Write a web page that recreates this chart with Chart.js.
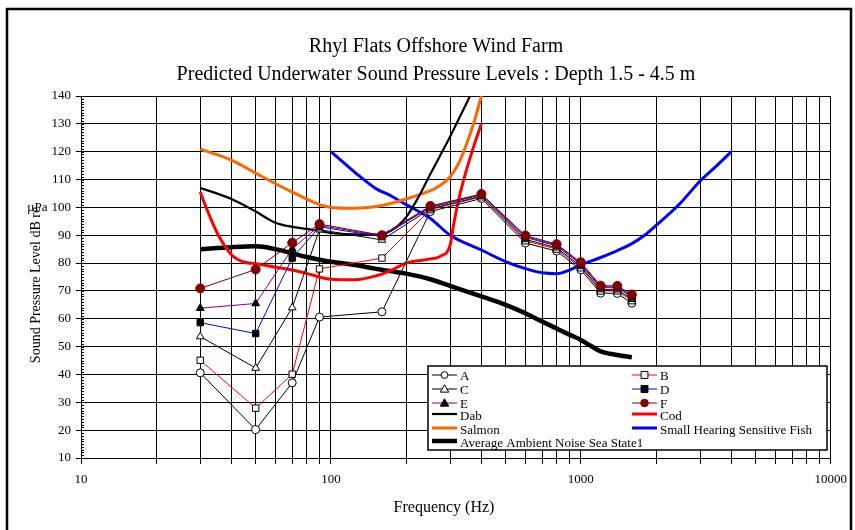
<!DOCTYPE html>
<html><head><meta charset="utf-8">
<script src="https://cdn.jsdelivr.net/npm/chart.js@4.4.0/dist/chart.umd.min.js"></script>
<style>html,body{margin:0;padding:0;background:#fff;}#wrap{width:855px;height:530px;}</style>
</head><body><div id="wrap"><canvas id="c" width="855" height="530"></canvas></div>
<script>
// ---------- DATA ----------
const markerFreqs = [30, 50, 70, 90, 160, 250, 400, 600, 800, 1000, 1200, 1400, 1600];
const seriesA = [40.6, 20.2, 37.0, 60.6, 62.5, 98.5, 103.2, 87.2, 84.3, 77.6, 69.2, 69.1, 65.6];
const seriesB = [45.1, 27.9, 40.1, 77.9, 81.8, 99.2, 103.8, 88.0, 85.0, 78.3, 70.0, 70.0, 66.5];
const seriesC = [53.6, 42.3, 64.0, 92.0, 88.3, 99.5, 104.0, 88.5, 85.5, 78.8, 70.5, 70.4, 67.0];
const seriesD = [58.6, 54.7, 81.8, 93.0, 89.5, 100.0, 104.5, 89.2, 86.2, 79.5, 71.2, 71.1, 67.8];
const seriesE = [63.8, 65.5, 85.1, 93.5, 89.8, 100.2, 104.7, 89.5, 86.5, 79.9, 71.5, 71.4, 68.2];
const seriesF = [70.9, 77.7, 87.3, 94.0, 90.0, 100.5, 104.8, 89.9, 86.8, 80.3, 71.9, 71.8, 68.7];

const dabFreqs  = [30, 40, 50, 60, 70, 80, 90, 100, 125, 150, 175, 200, 225, 250, 275, 300, 330, 360, 380];
const dabValues = [107, 103, 98.5, 94.5, 93, 92.3, 91.5, 90.8, 90.3, 90.2, 91.8, 96.5, 104, 112, 119, 125.5, 133, 140, 145];

const codFreqs  = [30, 32, 35, 40, 45, 50, 60, 70, 80, 90, 100, 125, 150, 175, 200, 250, 275, 300, 310, 325, 345, 370, 400];
const codValues = [105.5, 99, 91, 83, 80.3, 79.8, 78.5, 77.5, 76.3, 75, 74.2, 74, 75.3, 77.5, 80, 81.5, 82.5, 86.5, 94, 103, 112, 121, 130];

const salmonFreqs  = [30, 40, 50, 60, 70, 80, 90, 100, 125, 150, 175, 200, 225, 250, 275, 300, 325, 350, 375, 400];
const salmonValues = [120.9, 117, 112.3, 108.5, 105.5, 103, 101, 100, 99.7, 100.2, 101.5, 103, 104.5, 106, 108, 111, 116, 123, 131, 140];

const fishFreqs  = [100, 125, 150, 175, 200, 250, 300, 400, 500, 600, 700, 800, 900, 1000, 1200, 1400, 1600, 1800, 2000, 2500, 3000, 3500, 4000];
const fishValues = [120, 112.5, 107, 104, 101, 96, 90, 84.7, 80.5, 78, 76.5, 76.2, 77.5, 79.3, 82, 84.5, 87, 90, 93.5, 101.5, 109.5, 115, 120];

const noiseFreqs  = [30, 40, 50, 60, 70, 80, 90, 100, 125, 150, 200, 250, 300, 400, 500, 600, 700, 800, 900, 1000, 1100, 1200, 1400, 1600];
const noiseValues = [85, 85.7, 86, 85, 83.5, 82.2, 81.2, 80.5, 79.3, 78, 76.2, 74.2, 71.8, 68, 65, 62, 59, 56.5, 54.3, 52.4, 50.2, 48.3, 47, 46.2];

const xTickValues = [10,20,30,40,50,60,70,80,90,100,200,300,400,500,600,700,800,900,1000,2000,3000,4000,5000,6000,7000,8000,9000,10000];
const xTickLabels = ['10', '100', '1000', '10000'];
const yTickValues = [10,20,30,40,50,60,70,80,90,100,110,120,130,140];

const titleLines = ['Rhyl Flats Offshore Wind Farm', 'Predicted Underwater Sound Pressure Levels : Depth 1.5 - 4.5 m'];
const xTitle = 'Frequency (Hz)';
const yTitle = 'Sound Pressure Level dB re';
const yTitleUnit = 'µPa';

// ---------- BUILD ----------
const FONT = "'Liberation Serif', 'Times New Roman', serif";
const pts = (xs, ys) => xs.map((x, i) => ({x: x, y: ys[i]}));

function markerSet(label, data, color, style, bg, border, radius) {
  return {label, data: pts(markerFreqs, data), borderColor: color, borderWidth: 1,
    pointStyle: style, pointRadius: radius, pointHoverRadius: radius,
    pointBackgroundColor: bg, pointBorderColor: border, pointBorderWidth: 1,
    tension: 0, fill: false};
}
function curveSet(label, xs, ys, color, width) {
  return {label, data: pts(xs, ys), borderColor: color, borderWidth: width,
    pointRadius: 0, cubicInterpolationMode: 'monotone', fill: false, _curve: true};
}

const datasets = [
  markerSet('F', seriesF, '#800000', 'circle', '#800000', '#800000', 4.5),
  markerSet('E', seriesE, '#800080', 'triangle', '#000', '#000', 4.5),
  markerSet('D', seriesD, '#0000ff', 'rect', '#000', '#000', 4.5),
  markerSet('C', seriesC, '#000000', 'triangle', '#fff', '#000', 4.5),
  markerSet('B', seriesB, '#ff0000', 'rect', '#fff', '#000', 4.5),
  markerSet('A', seriesA, '#000000', 'circle', '#fff', '#000', 4),
  curveSet('Dab', dabFreqs, dabValues, '#000000', 2.2),
  curveSet('Cod', codFreqs, codValues, '#ff0000', 3),
  curveSet('Salmon', salmonFreqs, salmonValues, '#ff6600', 3),
  curveSet('Small Hearing Sensitive Fish', fishFreqs, fishValues, '#0000ff', 3),
  curveSet('Average Ambient Noise Sea State1', noiseFreqs, noiseValues, '#000000', 4.5)
];

function drawMarker(ctx, style, x, y, r, bg, border) {
  ctx.save();
  ctx.fillStyle = bg; ctx.strokeStyle = border; ctx.lineWidth = 1;
  ctx.beginPath();
  if (style === 'circle') { ctx.arc(x, y, r, 0, Math.PI * 2); }
  else if (style === 'rect') { const s = r * 0.9; ctx.rect(x - s, y - s, 2 * s, 2 * s); }
  else if (style === 'triangle') {
    const h = r * 1.1;
    ctx.moveTo(x, y - h); ctx.lineTo(x + h, y + h * 0.75); ctx.lineTo(x - h, y + h * 0.75); ctx.closePath();
  }
  ctx.fill(); ctx.stroke();
  ctx.restore();
}

const legendLayout = [
  {label: 'A', col: 0, y: 375}, {label: 'B', col: 1, y: 375},
  {label: 'C', col: 0, y: 389}, {label: 'D', col: 1, y: 389},
  {label: 'E', col: 0, y: 403}, {label: 'F', col: 1, y: 403},
  {label: 'Dab', col: 0, y: 414}, {label: 'Cod', col: 1, y: 414},
  {label: 'Salmon', col: 0, y: 428}, {label: 'Small Hearing Sensitive Fish', col: 1, y: 428},
  {label: 'Average Ambient Noise Sea State1', col: 0, y: 441}
];

const decor = {
  id: 'decor',
  beforeDraw(chart) {
    const ctx = chart.ctx;
    ctx.save(); ctx.fillStyle = '#fff'; ctx.fillRect(0, 0, chart.width, chart.height); ctx.restore();
  },
  afterDraw(chart) {
    const ctx = chart.ctx;
    const ys = chart.scales.y, xs = chart.scales.x;
    const area = chart.chartArea;
    ctx.save();
    // minor ticks on y axis
    ctx.strokeStyle = '#000'; ctx.lineWidth = 1;
    for (let v = ys.min; v <= ys.max; v += 1) {
      const py = Math.round(ys.getPixelForValue(v)) + 0.5;
      ctx.beginPath(); ctx.moveTo(area.left, py); ctx.lineTo(area.left + 3, py); ctx.stroke();
    }
    // titles
    ctx.fillStyle = '#000'; ctx.textAlign = 'center'; ctx.textBaseline = 'middle';
    ctx.font = '20px ' + FONT;
    ctx.fillText(titleLines[0], 436, 47);
    ctx.fillText(titleLines[1], 436, 75);
    ctx.font = '16px ' + FONT;
    ctx.fillText(xTitle, 444, 508);
    ctx.save();
    ctx.translate(36, 285); ctx.rotate(-Math.PI / 2);
    ctx.font = '14px ' + FONT;
    ctx.fillText(yTitle, 0, 0);
    ctx.restore();
    ctx.font = '13px ' + FONT; ctx.textAlign = 'left';
    ctx.fillText(yTitleUnit, 27, 208);
    // legend
    const bx = 428, by = 366, bw = 399, bh = 84;
    ctx.fillStyle = '#fff'; ctx.fillRect(bx, by, bw, bh);
    ctx.strokeStyle = '#000'; ctx.lineWidth = 1.5; ctx.strokeRect(bx, by, bw, bh);
    const colX = [432, 632];
    ctx.font = '13px ' + FONT; ctx.textBaseline = 'middle'; ctx.textAlign = 'left';
    legendLayout.forEach(item => {
      const ds = chart.data.datasets.find(d => d.label === item.label);
      const x0 = colX[item.col], x1 = x0 + 25;
      ctx.strokeStyle = ds.borderColor; ctx.lineWidth = ds.borderWidth;
      ctx.beginPath(); ctx.moveTo(x0, item.y); ctx.lineTo(x1, item.y); ctx.stroke();
      if (!ds._curve) {
        drawMarker(ctx, ds.pointStyle, (x0 + x1) / 2, item.y, ds.pointRadius * 0.85, ds.pointBackgroundColor, ds.pointBorderColor);
      }
      ctx.fillStyle = '#000';
      ctx.fillText(item.label, x1 + 3, item.y + (ds._curve ? 3 : 1.5));
    });
    // outer border
    ctx.strokeStyle = '#000'; ctx.lineWidth = 2.5;
    ctx.strokeRect(7, 9, 844, 540);
    ctx.restore();
  }
};

new Chart(document.getElementById('c'), {
  type: 'line',
  data: {datasets},
  options: {
    responsive: false, animation: false, devicePixelRatio: 1,
    layout: {padding: {left: 0, top: 96, right: 22, bottom: 0}},
    plugins: {legend: {display: false}, title: {display: false}, tooltip: {enabled: false}},
    scales: {
      x: {
        type: 'logarithmic', min: 10, max: 10000, position: 'bottom',
        afterBuildTicks: s => { s.ticks = xTickValues.map(v => ({value: v})); },
        afterFit: s => { s.height = 72; },
        grid: {color: '#000', lineWidth: 1, tickLength: 6, drawTicks: true},
        border: {color: '#000', width: 1},
        ticks: {autoSkip: false, maxRotation: 0, minRotation: 0, color: '#000', padding: 8,
          font: {family: FONT, size: 13},
          callback: v => (xTickLabels.indexOf(String(v)) >= 0 ? String(v) : '')}
      },
      y: {
        min: 10, max: 140,
        afterBuildTicks: s => { s.ticks = yTickValues.map(v => ({value: v})); },
        afterFit: s => { s.width = 81; },
        grid: {color: '#000', lineWidth: 1, tickLength: 5},
        border: {color: '#000', width: 1},
        ticks: {color: '#000', padding: 5, font: {family: FONT, size: 13}}
      }
    }
  },
  plugins: [decor]
});
</script></body></html>
